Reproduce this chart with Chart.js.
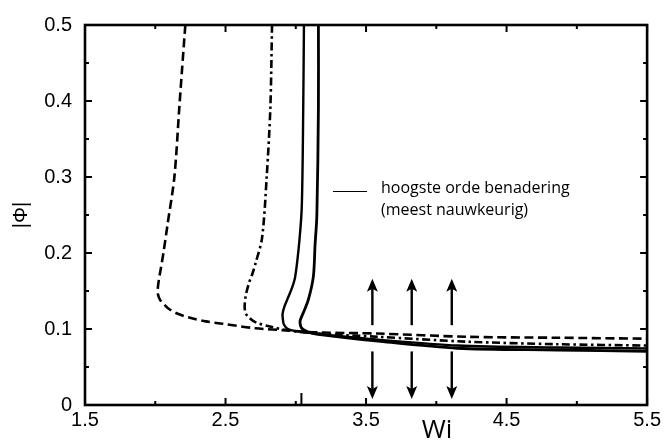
<!DOCTYPE html>
<html>
<head>
<meta charset="utf-8">
<script src="https://cdn.jsdelivr.net/npm/chart.js@4.4.0/dist/chart.umd.min.js"></script>
<style>
  html, body { margin: 0; padding: 0; background: #fff; }
  #wrap { width: 664px; height: 441px; position: relative; }
</style>
</head>
<body>
<div id="wrap"><canvas id="grafiek"></canvas></div>
<script>
// as-ticks
const xTicks = [1.5, 2.5, 3.5, 4.5, 5.5];
const xMinorTicks = [2.0, 3.0, 4.0, 5.0];
const xExtraTick = 3.04;
const yTicks = [0, 0.1, 0.2, 0.3, 0.4, 0.5];
const yMinorTicks = [0.05, 0.15, 0.25, 0.35, 0.45];

// gestreepte curve
const wiStreep  = [2.214, 2.19, 2.171, 2.136, 2.087, 2.058, 2.040, 2.026, 2.018, 2.020, 2.035, 2.07, 2.10, 2.16, 2.242, 2.36, 2.477, 2.713, 2.949, 3.16, 3.585, 4.22, 4.857, 5.5];
const phiStreep = [0.5, 0.44, 0.391, 0.30, 0.237, 0.20, 0.18, 0.165, 0.153, 0.145, 0.138, 0.131, 0.126, 0.12, 0.115, 0.110, 0.107, 0.101, 0.098, 0.0955, 0.094, 0.0897, 0.0885, 0.0872];

// streep-stip curve
const wiStip  = [2.831, 2.819, 2.793, 2.76, 2.713, 2.690, 2.666, 2.643, 2.636, 2.640, 2.654, 2.713, 2.831, 2.949, 3.16, 3.585, 4.22, 4.857, 5.5];
const phiStip = [0.5, 0.391, 0.30, 0.22, 0.186, 0.172, 0.160, 0.143, 0.130, 0.123, 0.1175, 0.109, 0.1026, 0.098, 0.094, 0.0897, 0.0833, 0.080, 0.0782];

// dunne doorgetrokken curve
const wiDun  = [3.058, 3.053, 3.043, 3.025, 2.996, 2.975, 2.949, 2.920, 2.906, 2.908, 2.913, 2.930, 2.949, 2.99, 3.043, 3.16, 3.585, 4.15, 4.857, 5.5];
const phiDun = [0.5, 0.391, 0.263, 0.215, 0.169, 0.155, 0.143, 0.130, 0.1197, 0.113, 0.107, 0.102, 0.0996, 0.0975, 0.096, 0.0935, 0.086, 0.0782, 0.0756, 0.0744];

// hoogste orde (dik)
const wiDik  = [3.161, 3.161, 3.15, 3.137, 3.125, 3.09, 3.055, 3.031, 3.033, 3.043, 3.065, 3.09, 3.16, 3.585, 4.15, 4.857, 5.5];
const phiDik = [0.5, 0.391, 0.25, 0.21, 0.169, 0.139, 0.122, 0.111, 0.105, 0.101, 0.098, 0.096, 0.093, 0.084, 0.0747, 0.0724, 0.0705];

// pijlen
const pijlWi = [3.545, 3.825, 4.11];
const pijlOmhoog = [0.105, 0.166];
const pijlOmlaag = [0.0705, 0.008];

const legendaTekst = ['hoogste orde benadering', '(meest nauwkeurig)'];

function punten(xs, ys) {
    return xs.map((x, i) => ({ x: x, y: ys[i] }));
}

function lijn(xs, ys, dash, breedte) {
    return {
        data: punten(xs, ys),
        showLine: true,
        borderColor: '#000',
        borderWidth: breedte,
        borderDash: dash,
        pointRadius: 0,
        fill: false,
        tension: 0.3
    };
}

function pijl(ctx, x, y1, y2) {
    // y1 = staart, y2 = punt (pixels)
    const dir = y2 < y1 ? -1 : 1;
    ctx.beginPath();
    ctx.moveTo(x, y1);
    ctx.lineTo(x, y2 - dir * 10);
    ctx.stroke();
    ctx.beginPath();
    ctx.moveTo(x, y2);
    ctx.lineTo(x - 5.5, y2 - dir * 13);
    ctx.lineTo(x, y2 - dir * 10);
    ctx.lineTo(x + 5.5, y2 - dir * 13);
    ctx.closePath();
    ctx.fill();
}

const kaderPlugin = {
    id: 'kader',
    afterDatasetsDraw(chart) {
        const ctx = chart.ctx;
        const a = chart.chartArea;
        const sx = chart.scales.x;
        const sy = chart.scales.y;
        ctx.save();
        ctx.strokeStyle = '#000';
        ctx.fillStyle = '#000';

        // ticks naar binnen
        ctx.lineWidth = 2;
        const tickX = (v, len) => {
            const px = sx.getPixelForValue(v);
            ctx.beginPath();
            ctx.moveTo(px, a.bottom); ctx.lineTo(px, a.bottom - len);
            ctx.moveTo(px, a.top); ctx.lineTo(px, a.top + len);
            ctx.stroke();
        };
        const tickY = (v, len) => {
            const py = sy.getPixelForValue(v);
            ctx.beginPath();
            ctx.moveTo(a.left, py); ctx.lineTo(a.left + len, py);
            ctx.moveTo(a.right, py); ctx.lineTo(a.right - len, py);
            ctx.stroke();
        };
        xTicks.forEach(v => tickX(v, 7));
        xMinorTicks.forEach(v => tickX(v, 4));
        yTicks.forEach(v => tickY(v, 7));
        yMinorTicks.forEach(v => tickY(v, 4));
        const pe = sx.getPixelForValue(xExtraTick);
        ctx.beginPath();
        ctx.moveTo(pe, a.bottom); ctx.lineTo(pe, a.bottom - 12);
        ctx.stroke();

        // kader
        ctx.lineWidth = 2.6;
        ctx.strokeRect(a.left, a.top, a.right - a.left, a.bottom - a.top);

        // pijlen
        ctx.lineWidth = 2.4;
        pijlWi.forEach(w => {
            const px = sx.getPixelForValue(w);
            pijl(ctx, px, sy.getPixelForValue(pijlOmhoog[0]), sy.getPixelForValue(pijlOmhoog[1]));
            pijl(ctx, px, sy.getPixelForValue(pijlOmlaag[0]), sy.getPixelForValue(pijlOmlaag[1]));
        });

        // legenda
        ctx.lineWidth = 1;
        ctx.beginPath();
        ctx.moveTo(333, 191.5); ctx.lineTo(367, 191.5);
        ctx.stroke();
        ctx.font = '16px "Open Sans"';
        ctx.textAlign = 'left';
        ctx.textBaseline = 'middle';
        ctx.fillText(legendaTekst[0], 381, 188);
        ctx.fillText(legendaTekst[1], 381, 210);

        // x-titel
        ctx.font = '26px "Open Sans"';
        ctx.textAlign = 'center';
        ctx.textBaseline = 'alphabetic';
        ctx.fillText('Wi', 437, 438);
        ctx.restore();
    }
};

const datasets = [
    lijn(wiStreep, phiStreep, [9, 4.5], 2.6),
    lijn(wiStip, phiStip, [8, 3.5, 2.5, 3.5], 2.6),
    lijn(wiDun, phiDun, [], 2.4),
    lijn(wiDik, phiDik, [], 2.8)
];

new Chart(document.getElementById('grafiek'), {
    type: 'scatter',
    data: { datasets: datasets },
    options: {
        responsive: true,
        maintainAspectRatio: false,
        animation: false,
        layout: { padding: { top: 15, right: 13, left: 0, bottom: 0 } },
        plugins: {
            legend: { display: false },
            tooltip: { enabled: false }
        },
        scales: {
            x: {
                type: 'linear',
                min: 1.5,
                max: 5.5,
                grid: { display: false, drawTicks: false },
                border: { display: false },
                afterBuildTicks: s => { s.ticks = xTicks.map(v => ({ value: v })); },
                afterFit: s => { s.height = 36; },
                ticks: {
                    color: '#000',
                    padding: 3,
                    maxRotation: 0,
                    autoSkip: false,
                    font: { family: '"Liberation Sans", Arial, sans-serif', size: 20 },
                    callback: v => String(v)
                }
            },
            y: {
                type: 'linear',
                min: 0,
                max: 0.5,
                grid: { display: false, drawTicks: false },
                border: { display: false },
                afterBuildTicks: s => { s.ticks = yTicks.map(v => ({ value: v })); },
                afterFit: s => { s.width = 85; },
                ticks: {
                    color: '#000',
                    padding: 13,
                    autoSkip: false,
                    font: { family: '"Liberation Sans", Arial, sans-serif', size: 20 },
                    callback: v => String(v)
                },
                title: {
                    display: true,
                    text: '|Φ|',
                    color: '#000',
                    padding: { top: 9, bottom: 0 },
                    font: { family: '"Liberation Sans", Arial, sans-serif', size: 20 }
                }
            }
        }
    },
    plugins: [kaderPlugin]
});
</script>
</body>
</html>
